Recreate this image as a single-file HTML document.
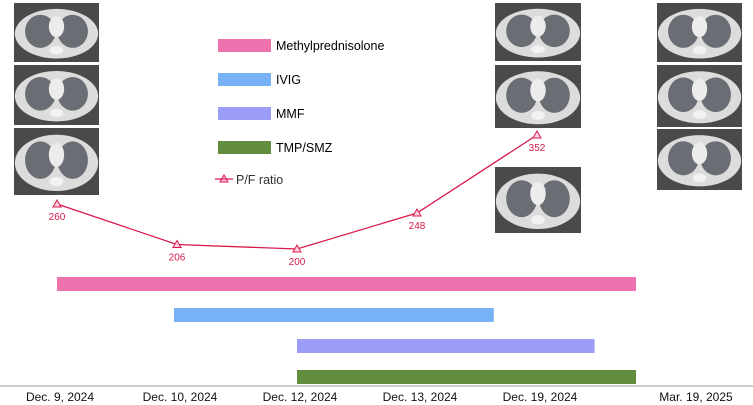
<!DOCTYPE html>
<html><head><meta charset="utf-8"><style>
body{margin:0;background:#fff;font-family:"Liberation Sans",Arial,sans-serif}
svg{display:block}
</style></head><body>
<svg id="chart" width="753" height="405" viewBox="0 0 753 405" xmlns="http://www.w3.org/2000/svg">
<defs>
<g id="ct">
<rect x="0" y="0" width="100" height="100" fill="#4a4a4a"/>
<ellipse cx="50" cy="52" rx="49" ry="42" fill="#dcdcdc"/>
<ellipse cx="31" cy="48" rx="18" ry="28" fill="#6a6e74"/>
<ellipse cx="69" cy="48" rx="18" ry="28" fill="#6a6e74"/>
<ellipse cx="50" cy="40" rx="9" ry="18" fill="#ececec"/>
<ellipse cx="50" cy="80" rx="8" ry="7" fill="#f2f2f2"/>
</g>
</defs>
<g id="ct-images"></g>
<g id="legend">
<rect x="218" y="39" width="53" height="13" fill="#ee72ad"/>
<text x="276" y="50" font-size="12.5">Methylprednisolone</text>
<rect x="218" y="73" width="53" height="13" fill="#77b2f7"/>
<text x="276" y="84" font-size="12.5">IVIG</text>
<rect x="218" y="107" width="53" height="13" fill="#9a9cf6"/>
<text x="276" y="118" font-size="12.5">MMF</text>
<rect x="218" y="141" width="53" height="13" fill="#648e3f"/>
<text x="276" y="152" font-size="12.5">TMP/SMZ</text>
<line x1="215" y1="179" x2="233" y2="179" stroke="#d81b4a" stroke-width="1.2"/>
<path d="M224,175 L228,182 L220,182 Z" fill="#f6c" fill-opacity="0.4" stroke="#d81b4a" stroke-width="1"/>
<text x="236" y="184" font-size="12.5" fill="#333">P/F ratio</text>
</g>
<line x1="0" y1="386" x2="753" y2="386" stroke="#999" stroke-width="1"/>
<g id="bars"></g><g id="line"></g><g id="ticks"></g>
</svg>
<script>
const categories=["Dec. 9, 2024","Dec. 10, 2024","Dec. 12, 2024","Dec. 13, 2024","Dec. 19, 2024","Mar. 19, 2025"];
const tickPos=[0,1,2,3,4,5.3];
const drugs=["Methylprednisolone","IVIG","MMF","TMP/SMZ"];
const drugStart=[0,0.975,2,2];
const drugEnd=[4.825,3.64,4.48,4.825];
const drugColors=["#ee72ad","#77b2f7","#9a9cf6","#648e3f"];
const pfIndex=[0,1,2,3,4];
const pfValues=[260,206,200,248,352];
const NS="http://www.w3.org/2000/svg";
const x=i=>57+i*120;
const y=v=>204-(v-260)*0.75;
function mk(t,a,p){const e=document.createElementNS(NS,t);for(const k in a)e.setAttribute(k,a[k]);p.appendChild(e);return e;}
const ctG=document.getElementById('ct-images');
const cts=[[14,3,85,59],[14,65,85,60],[14,128,85,67],[495,3,86,58],[495,65,86,63],[495,167,86,66],[657,3,85,59],[657,65,85,62],[657,129,85,61]];
cts.forEach((c,i)=>{const u=mk('use',{href:'#ct',transform:`translate(${c[0]},${c[1]}) scale(${c[2]/100},${c[3]/100})`},ctG);

});
const bG=document.getElementById('bars');
drugs.forEach((d,i)=>{const r=mk('rect',{x:x(drugStart[i]),y:277+i*31,width:x(drugEnd[i])-x(drugStart[i]),height:14,fill:drugColors[i]},bG);

});
const lG=document.getElementById('line');
const pl=mk('polyline',{points:pfValues.map((v,i)=>x(pfIndex[i])+','+y(v)).join(' '),fill:'none',stroke:'#d81b4a','stroke-width':1.3},lG);


pfValues.forEach((v,i)=>{const cx=x(pfIndex[i]),cy=y(v);
const m=mk('path',{d:`M${cx},${cy-4} L${cx+4},${cy+3} L${cx-4},${cy+3} Z`,fill:'#ffd0dd',stroke:'#d81b4a','stroke-width':1},lG);


const t=mk('text',{x:cx,y:cy+16,'font-size':10,'text-anchor':'middle',fill:'#d81b4a'},lG);t.textContent=v;

});
const tG=document.getElementById('ticks');
categories.forEach((c,i)=>{const t=mk('text',{x:x(tickPos[i])+3,y:401,'font-size':12,'text-anchor':'middle',fill:'#111'},tG);t.textContent=c;

});
</script>
</body></html>
